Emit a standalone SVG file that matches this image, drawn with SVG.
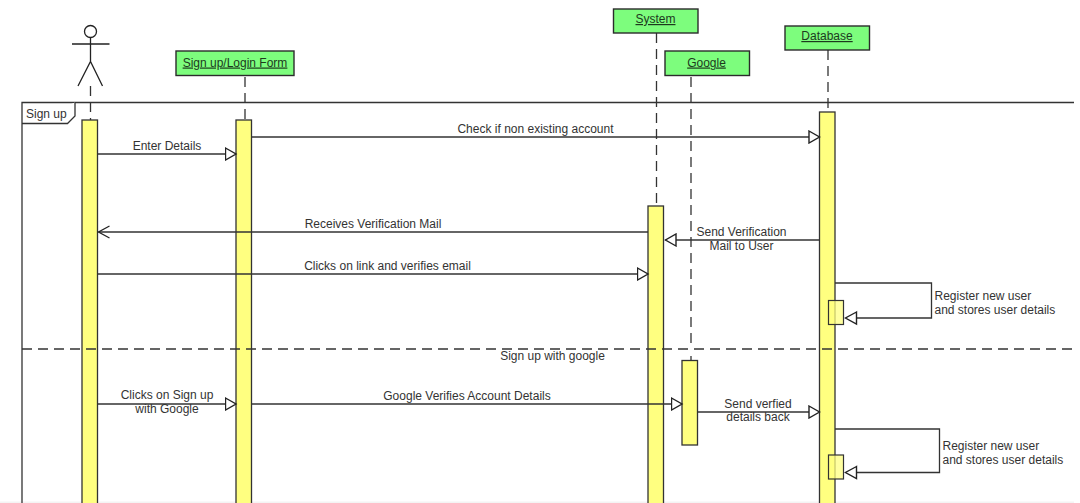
<svg xmlns="http://www.w3.org/2000/svg" width="1080" height="503" viewBox="0 0 1080 503">
<style>
text{font-family:"Liberation Sans",Arial,sans-serif;font-size:12px;fill:#333}
.c{text-anchor:middle}
.head{fill:#7dfd7d;stroke:#2b2b2b;stroke-width:1.4}
.hl{fill:#1d3a1d;text-decoration:underline}
.act{fill:#ffff80;stroke:#333;stroke-width:1.3}
.self{fill:#ffff80;fill-opacity:.75;stroke:#333;stroke-width:1.2}
.life{stroke:#333;stroke-width:1.3;stroke-dasharray:10 6;fill:none}
.msg{stroke:#333;stroke-width:1.3;fill:none}
.ah{fill:#fff;stroke:#222;stroke-width:1.4}
.actor{stroke:#222;stroke-width:1.3;fill:none}
</style>
<defs>
<marker id="tri" markerUnits="userSpaceOnUse" markerWidth="14" markerHeight="14" refX="11.5" refY="7" orient="auto"><path class="ah" d="M1 1L11.500 7L1 13Z"/></marker>
<marker id="open" markerUnits="userSpaceOnUse" markerWidth="14" markerHeight="14" refX="12" refY="7" orient="auto"><path d="M1 1L12 7L1 13" fill="none" stroke="#222" stroke-width="1.3"/></marker>
</defs>
<rect width="1080" height="503" fill="#fff"/>
<rect x="0" y="501.5" width="1074" height="1.5" fill="#f4f4f4"/>
<g id="frame">
<path d="M22 503V102.5H1074" fill="none" stroke="#333" stroke-width="1.3"/>
<path d="M22 123.5H67.500L75 116V102.500" fill="#fff" stroke="#333" stroke-width="1.3"/>
<text x="26" y="118">Sign up</text>
</g>
<g id="lifelines">
<path class="life" d="M90.500 86V120"/>
<path class="life" d="M245 77V120"/>
<path class="life" d="M656.500 33V206"/>
<path class="life" d="M691 77V348.500"/>
<path class="life" d="M691 356V360"/>
<path class="life" d="M828 50V112"/>
</g>
<g id="actor" class="actor">
<circle cx="90.500" cy="31.500" r="6"/>
<path d="M90.500 37.500V61.500M72 44H109.500M78 86L90.500 61.500L102.500 86"/>
</g>
<g id="node-form"><rect class="head" x="176" y="51" width="118" height="24.500"/><text class="c hl" x="235" y="66.500">Sign up/Login Form</text></g>
<g id="node-system"><rect class="head" x="613.500" y="9" width="84.500" height="24"/><text class="c hl" x="655.500" y="23">System</text></g>
<g id="node-google"><rect class="head" x="665" y="51" width="84.500" height="24.500"/><text class="c hl" x="706.500" y="66.500">Google</text></g>
<g id="node-database"><rect class="head" x="785" y="26" width="84.500" height="24"/><text class="c hl" x="827" y="40">Database</text></g>
<g id="activations">
<rect class="act" x="82" y="120" width="15.500" height="390"/>
<rect class="act" x="236" y="120" width="15.500" height="390"/>
<rect class="act" x="648" y="206" width="15.500" height="304"/>
<rect class="act" x="682" y="360.500" width="15.500" height="84.500"/>
<rect class="act" x="819.500" y="112" width="15.500" height="398"/>
</g>
<g id="divider">
<path class="life" d="M22 349H1074" stroke-dasharray="12 6"/>
<text class="c" x="552.500" y="360">Sign up with google</text>
</g>
<g id="connectors">
<path class="msg" marker-end="url(#tri)" d="M251.500 137H819.500"/>
<path class="msg" marker-end="url(#tri)" d="M97.500 154H236"/>
<path class="msg" marker-end="url(#open)" d="M648 232H98.500"/>
<path class="msg" marker-end="url(#tri)" d="M819.500 240H665.500"/>
<path class="msg" marker-end="url(#tri)" d="M97.500 274H648"/>
<path class="msg" d="M835 283H931.500V318H846"/>
<path class="msg" marker-end="url(#tri)" d="M97.500 404H236"/>
<path class="msg" marker-end="url(#tri)" d="M251.500 404H682"/>
<path class="msg" marker-end="url(#tri)" d="M697.500 412H819.500"/>
<path class="msg" d="M835 429H939.500V472.500H846"/>
</g>
<rect class="self" x="828.500" y="300.500" width="15" height="24"/>
<rect class="self" x="828.500" y="455" width="15" height="24"/>
<path class="ah" d="M856.500 312L845.500 318L856.500 324Z"/>
<path class="ah" d="M856.500 466.500L845.500 472.500L856.500 478.500Z"/>
<g id="labels">
<text class="c" x="535.500" y="133">Check if non existing account</text>
<text class="c" x="167" y="150">Enter Details</text>
<text class="c" x="373" y="228">Receives Verification Mail</text>
<text class="c" x="741.500" y="236">Send Verification</text>
<text class="c" x="741.500" y="250">Mail to User</text>
<text class="c" x="387.500" y="270">Clicks on link and verifies email</text>
<text x="934.500" y="300">Register new user</text>
<text x="934.500" y="314">and stores user details</text>
<text class="c" x="167" y="399">Clicks on Sign up</text>
<text class="c" x="167" y="413">with Google</text>
<text class="c" x="467" y="400">Google Verifies Account Details</text>
<text class="c" x="758" y="408">Send verfied</text>
<text class="c" x="758" y="421">details back</text>
<text x="942.500" y="450">Register new user</text>
<text x="942.500" y="464">and stores user details</text>
</g>
</svg>
